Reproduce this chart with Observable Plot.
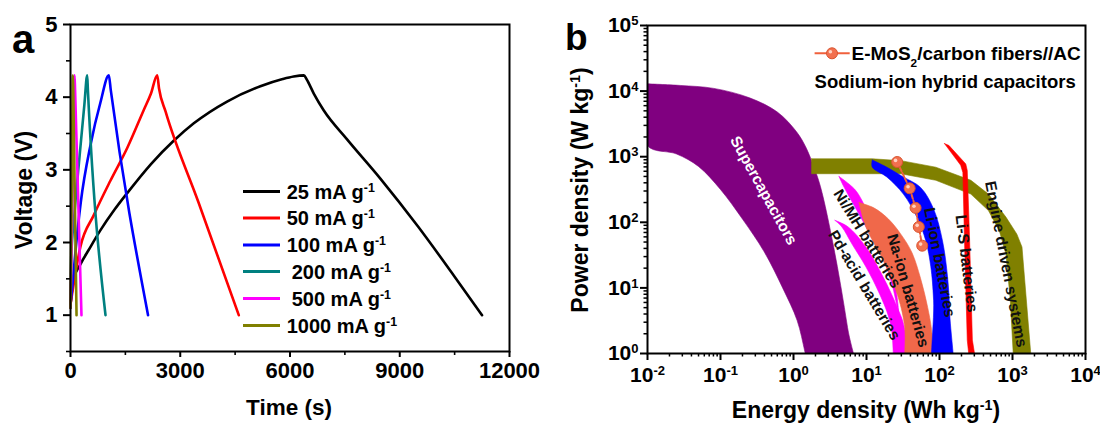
<!DOCTYPE html>
<html><head><meta charset="utf-8">
<script src="https://cdn.jsdelivr.net/npm/d3@7"></script>
<script src="https://cdn.jsdelivr.net/npm/@observablehq/plot@0.6"></script>
<style>
body{margin:0;background:#fff;}
#wrap{position:relative;width:1100px;height:427px;overflow:hidden;background:#fff;}
.panel{position:absolute;top:0;}
</style></head><body><div id="wrap"><div id="pa" class="panel" style="left:0"></div><div id="pb" class="panel" style="left:550px"></div></div>
<script>
// ---------------- DATA: panel a (galvanostatic charge/discharge) ----------------
const rateLabels = ["25 mA g^{-1}", "50 mA g^{-1}", "100 mA g^{-1}", "200 mA g^{-1}", "500 mA g^{-1}", "1000 mA g^{-1}"];
const gcd25 = [[0,1.15],[90,1.5],[270,1.7],[500,1.9],[820,2.17],[1200,2.45],[1550,2.68],[2200,3.08],[2820,3.40],[3370,3.64],[4280,3.94],[5190,4.15],[5800,4.25],[6100,4.285],[6380,4.30],[6450,4.25],[6650,4.05],[6920,3.82],[7560,3.42],[8470,2.88],[9500,2.22],[10500,1.53],[11250,1.0]];
const gcd50 = [[0,1.15],[46,1.3],[270,1.94],[640,2.38],[1090,2.85],[1550,3.3],[2000,3.82],[2200,4.05],[2370,4.3],[2420,4.12],[2600,3.8],[3500,2.55],[4600,1.0]];
const gcd100 = [[0,1.15],[60,1.45],[140,1.9],[280,2.55],[550,3.35],[820,3.93],[1048,4.3],[1100,4.1],[2120,1.0]];
const gcd200 = [[0,1.1],[20,1.8],[100,2.35],[250,3.2],[380,3.9],[456,4.3],[475,4.1],[957,1.0]];
const gcd500 = [[0,1.1],[60,2.8],[110,4.3],[125,4.1],[300,1.0]];
const gcd1000 = [[0,1.1],[40,3.0],[65,4.3],[75,4.1],[165,1.0]];
const xTicksA = [0, 3000, 6000, 9000, 12000];
const xMinorA = [1500, 4500, 7500, 10500];
const yTicksA = [1, 2, 3, 4, 5];
const yMinorA = [0.5, 1.5, 2.5, 3.5, 4.5];

// ---------------- DATA: panel b (Ragone plot), [energy Wh/kg, power W/kg] ----------------
const superCap = [[0.01,12900],[0.028,12200],[0.081,11000],[0.25,7900],[0.6,4800],[1.1,2400],[1.5,1350],[1.9,700],[2.34,350],[3.55,42],[5.5,2.5],[7.5,0.2],[2.0,0.2],[1.45,1.0],[1.12,3.2],[0.71,10],[0.4,35],[0.2,112],[0.1,316],[0.05,710],[0.025,1100],[0.01,1480]];
const engineSys = [[1.77,929],[12,929],[29.5,871],[89,692],[269,437],[468,269],[813,120],[1148,66],[1349,42],[1778,1],[1023,1],[933,6.5],[813,33],[661,74],[468,151],[269,269],[89,437],[29.5,550],[1.77,550]];
const niMH = [[4.2,500],[6.8,324],[8.7,214],[12.6,85],[19,33],[25.1,10.2],[27.5,4.1],[25.1,6.5],[22.9,10.2],[17.4,26],[11.2,66],[7.4,151],[4.9,347]];
const pdAcid = [[3.7,107],[5.6,85],[9.8,42],[17,14.5],[26.3,5.1],[33,2.5],[39,0.2],[28,0.2],[21.4,2.8],[15.1,8.1],[9.8,21],[6.3,47],[4.6,85]];
const naIon = [[7.9,200],[12.6,166],[20,112],[29.5,66],[41.7,35],[55,14],[69,5],[79,2],[87,0.2],[39,0.2],[33,2.8],[26.3,8.1],[17,26],[9.8,85]];
const liIon = [[12,891],[19,692],[32,490],[55,340],[83,160],[110,52],[129,14.5],[138,4.1],[143,0.2],[88,0.2],[83,6.5],[76,21],[65,52],[49,120],[32,269],[19,490],[12,692]];
const liS = [[117,1585],[195,741],[209,575],[219,66],[240,1.6],[251,1],[302,1],[282,1.6],[257,66],[240,617],[229,776],[135,1479]];
const mosE = [26.3, 39, 47, 52, 58];
const mosP = [830, 330, 166, 85, 44];
const regionNames = ["Supercapacitors","Ni/MH batteries","Pd-acid batteries","Na-ion batteries","Li-ion batteries","Li-S batteries","Engine driven systems"];
const labelE = [0.39, 10.2, 9.3, 37, 100, 234, 812];
const labelP = [305, 56, 11, 9.1, 24.5, 23.5, 23];
const xTicksB = [1e-2, 1e-1, 1e0, 1e1, 1e2, 1e3, 1e4];
const yTicksB = [1e0, 1e1, 1e2, 1e3, 1e4, 1e5];

// ---------------- styles ----------------
const FONT = '"Liberation Sans", Arial, Helvetica, sans-serif';
const rateColors = ["#000000", "#ff0000", "#0000ff", "#008080", "#ff00ff", "#808000"];
const labelAngles = [61, 58, 59, 74, 79, 83, 79];

const minors = (ticks) => {
  const out = [];
  for (let i = 0; i < ticks.length - 1; i++) for (let k = 2; k <= 9; k++) out.push(ticks[i] * k);
  return out;
};
const pow10 = d => `10^{${Math.round(Math.log10(d))}}`;

function setRich(el, s) {
  el.textContent = "";
  const re = /([\^_])\{([^}]*)\}|([^\^_]+)/g;
  let m;
  while ((m = re.exec(s))) {
    const ts = document.createElementNS("http://www.w3.org/2000/svg", "tspan");
    if (m[3] !== undefined) ts.textContent = m[3];
    else {
      ts.textContent = m[2];
      ts.setAttribute("font-size", "62%");
      ts.setAttribute("baseline-shift", m[1] === "^" ? "super" : "sub");
    }
    el.appendChild(ts);
  }
}
function richify(root) {
  root.querySelectorAll("text").forEach(t => {
    const s = t.textContent;
    if (/[\^_]\{/.test(s)) setRich(t, s);
  });
}

// ---------------- panel a ----------------
const gcdSets = [gcd25, gcd50, gcd100, gcd200, gcd500, gcd1000];
const gcdRows = gcdSets.flatMap((arr, i) => arr.map(([t, v]) => ({rate: rateLabels[i], t, v})));

const baseStyle = {fontFamily: FONT, fontWeight: "bold", fontSize: "22px", color: "#000", background: "transparent", overflow: "visible"};

const plotA = Plot.plot({
  width: 550, height: 427,
  marginLeft: 70, marginRight: 41, marginTop: 24, marginBottom: 76,
  style: baseStyle,
  x: {domain: [0, 12000], label: null},
  y: {domain: [0.5, 5], label: null},
  color: {type: "ordinal", domain: rateLabels, range: rateColors},
  marks: [
    Plot.line(gcdRows, {x: "t", y: "v", z: "rate", stroke: "rate", strokeWidth: 2.6, strokeLinejoin: "round", curve: "monotone-x"}),
    Plot.frame({stroke: "#000", strokeWidth: 2}),
    Plot.axisX({ticks: xTicksA, tickSize: 6, tickPadding: 5, strokeWidth: 2, fontSize: 22, tickFormat: d => String(d), label: null}),
    Plot.axisX({ticks: xMinorA, tickSize: 4, strokeWidth: 1.6, tickFormat: () => "", label: null}),
    Plot.axisY({ticks: yTicksA, tickSize: 7, tickPadding: 6, strokeWidth: 2, fontSize: 22, tickFormat: d => String(d), label: null}),
    Plot.axisY({ticks: yMinorA, tickSize: 4, strokeWidth: 1.6, tickFormat: () => "", label: null})
  ]
});
document.getElementById("pa").appendChild(plotA);

// ---------------- panel b ----------------
const close = pts => pts.concat([pts[0]]);
const regions = [
  {pts: superCap, color: "#800080", curve: "catmull-rom"},
  {pts: engineSys, color: "#808000", curve: "linear"},
  {pts: niMH, color: "#ff00ff", curve: "catmull-rom"},
  {pts: pdAcid, color: "#ff00ff", curve: "catmull-rom"},
  {pts: naIon, color: "#f0684a", curve: "catmull-rom"},
  {pts: liIon, color: "#0000ff", curve: "catmull-rom"},
  {pts: liS, color: "#ff0000", curve: "linear"}
];
const labelRows = regionNames.map((name, i) => ({name, E: labelE[i], P: labelP[i], angle: labelAngles[i]}));
const mosRows = mosE.map((E, i) => ({E, P: mosP[i]}));

const plotB = Plot.plot({
  width: 550, height: 427,
  marginLeft: 97, marginRight: 15, marginTop: 25, marginBottom: 74,
  style: baseStyle,
  x: {type: "log", domain: [1e-2, 1e4], label: null},
  y: {type: "log", domain: [1, 1e5], label: null},
  marks: [
    ...regions.map(r => Plot.line(close(r.pts), {x: d => d[0], y: d => d[1], fill: r.color, stroke: r.color, strokeWidth: 0.6, curve: r.curve, clip: true})),
    Plot.text(labelRows.slice(0, 1), {x: "E", y: "P", text: "name", rotate: "angle", fontSize: 15.5, fontWeight: "bold", fill: "white"}),
    Plot.text(labelRows.slice(1), {x: "E", y: "P", text: "name", rotate: "angle", fontSize: 15.5, fontWeight: "bold", fill: "#111"}),
    Plot.line(mosRows, {x: "E", y: "P", stroke: "#f0603c", strokeWidth: 2, strokeDasharray: "4,2"}),
    Plot.dot(mosRows, {x: "E", y: "P", r: 5.5, fill: "#f2704f", stroke: "#d9542f", strokeWidth: 1}),
    Plot.dot(mosRows, {x: "E", y: "P", r: 1.8, fill: "#ffd2c2", stroke: "none", dx: -1.6, dy: -1.6}),
    Plot.frame({stroke: "#000", strokeWidth: 2}),
    Plot.axisX({ticks: xTicksB, tickSize: 7, tickPadding: 7, strokeWidth: 2, fontSize: 21, tickFormat: pow10, label: null}),
    Plot.axisX({ticks: minors(xTicksB), tickSize: 3.5, strokeWidth: 1.5, tickFormat: () => "", label: null}),
    Plot.axisY({ticks: yTicksB, tickSize: 7, tickPadding: 2, strokeWidth: 2, fontSize: 21, tickFormat: pow10, label: null}),
    Plot.axisY({ticks: minors(yTicksB), tickSize: 3.5, strokeWidth: 1.5, tickFormat: () => "", label: null})
  ]
});
document.getElementById("pb").appendChild(plotB);
richify(plotA);
richify(plotB);

// ---------------- overlay: panel letters, axis titles, legends ----------------
const ov = d3.select("#wrap").append("svg")
  .attr("width", 1100).attr("height", 427)
  .style("position", "absolute").style("left", 0).style("top", 0)
  .style("font-family", FONT).style("font-weight", "bold").style("pointer-events", "none");

function addText(str, attrs) {
  const t = ov.append("text").attr("fill", "#000");
  for (const k in attrs) t.attr(k, attrs[k]);
  setRich(t.node(), str);
  return t;
}
addText("a", {x: 12, y: 53, "font-size": 40});
addText("b", {x: 565, y: 50, "font-size": 37});
addText("Voltage (V)", {transform: "translate(24,190) rotate(-90)", "text-anchor": "middle", dy: "0.36em", "font-size": 23});
addText("Time (s)", {x: 289, y: 415, "text-anchor": "middle", "font-size": 22.5});
addText("Power density (W kg^{-1})", {transform: "translate(580,190) rotate(-90)", "text-anchor": "middle", dy: "0.36em", "font-size": 23});
addText("Energy density (Wh kg^{-1})", {x: 866, y: 418, "text-anchor": "middle", "font-size": 23});

// legend a
const rowY = [191.5, 218, 245, 271.5, 298.5, 325.5];
const rowX = [286.7, 286.7, 286.7, 291.7, 291.7, 286.7];
rateLabels.forEach((lab, i) => {
  ov.append("line").attr("x1", 243).attr("x2", 280).attr("y1", rowY[i]).attr("y2", rowY[i])
    .attr("stroke", rateColors[i]).attr("stroke-width", 3);
  addText(lab, {x: rowX[i], y: rowY[i], dy: "0.36em", "font-size": 20});
});

// legend b
ov.append("line").attr("x1", 814.6).attr("x2", 849.7).attr("y1", 53.3).attr("y2", 53.3).attr("stroke", "#f0603c").attr("stroke-width", 2);
ov.append("circle").attr("cx", 832).attr("cy", 53.3).attr("r", 5.5).attr("fill", "#f2704f").attr("stroke", "#d9542f");
ov.append("circle").attr("cx", 830.4).attr("cy", 51.7).attr("r", 1.8).attr("fill", "#ffd2c2");
addText("E-MoS_{2}/carbon fibers//AC", {x: 851.5, y: 53.3, dy: "0.36em", "font-size": 19});
addText("Sodium-ion hybrid capacitors", {x: 814.6, y: 81.7, dy: "0.36em", "font-size": 18.5});
</script></body></html>
